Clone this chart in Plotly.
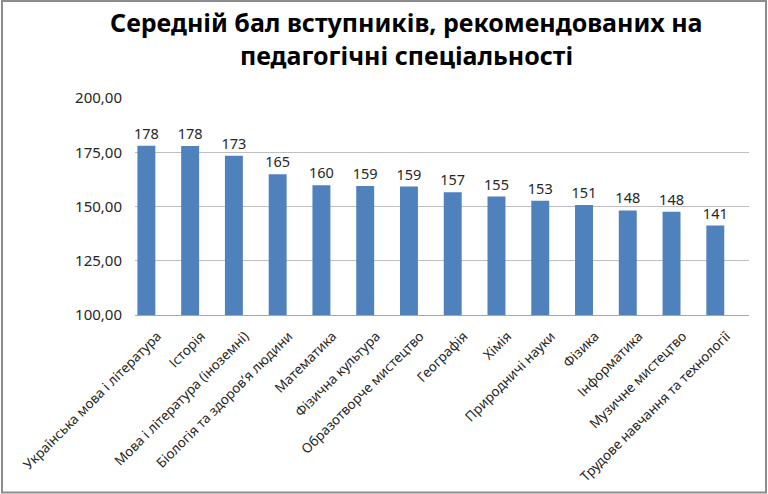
import plotly.graph_objects as go

categories = [
    "Українська мова і література", "Історія", "Мова і література (іноземні)",
    "Біологія та здоров’я людини", "Математика", "Фізична культура",
    "Образотворче мистецтво", "Географія", "Хімія", "Природничі науки",
    "Фізика", "Інформатика", "Музичне мистецтво", "Трудове навчання та технології",
]
values = [178.0, 177.9, 173.4, 164.9, 159.8, 159.4, 159.2, 156.6, 154.6, 152.6, 150.7, 148.2, 147.6, 141.2]
title_lines = ["Середній бал вступників, рекомендованих на", "педагогічні спеціальності"]

W, H = 768, 494
L, R, T, B = 135, 19, 98, 179

fig = go.Figure(go.Bar(
    x=categories, y=values,
    marker=dict(color="#4F81BD", line=dict(width=0)),
    width=0.41,
    text=values, texttemplate="%{y:.0f}", textposition="outside",
    constraintext="none",
    textfont=dict(family="Noto Sans", size=14.5, color="#262626"),
    cliponaxis=False,
))

pw, ph = W - L - R, H - T - B
def px(x): return (x - L) / pw
def py(y): return (H - B - y) / ph

annotations = []
for line, yc in zip(title_lines, [21.6, 54.6]):
    annotations.append(dict(text=line, xref="paper", yref="paper", x=px(406), y=py(yc),
                            xanchor="center", yanchor="middle", showarrow=False,
                            font=dict(family="Noto Sans", size=25, color="black", weight="bold")))

fig.update_layout(
    width=W, height=H,
    margin=dict(l=L, r=R, t=T, b=B, pad=0, autoexpand=False),
    paper_bgcolor="white", plot_bgcolor="white",
    separators=", ",
    showlegend=False,
    annotations=annotations,
    xaxis=dict(type="category", range=[-0.26, 13.77], showgrid=False, automargin=False,
               showline=True, linecolor="#A6A6A6", linewidth=1, ticks="",
               tickangle=-45, ticklabelstandoff=7, ticklabelshift=11,
               tickfont=dict(family="Noto Sans", size=13.5, color="#262626")),
    yaxis=dict(range=[100, 200], dtick=25, tickformat=".2f", showgrid=True, automargin=False,
               gridcolor="#BFBFBF", gridwidth=1, zeroline=False, showline=False,
               ticks="", ticklabelstandoff=12,
               tickfont=dict(family="Noto Sans", size=15, color="#262626")),
    shapes=[dict(type="rect", xref="paper", yref="paper",
                 x0=px(2), x1=px(766), y0=py(492.5), y1=py(1),
                 line=dict(color="#8C8C8C", width=2), layer="below")],
)

fig.write_html("out.html", config={"displayModeBar": False},
               post_script="document.body.style.margin='0';document.body.style.overflow='hidden';")
